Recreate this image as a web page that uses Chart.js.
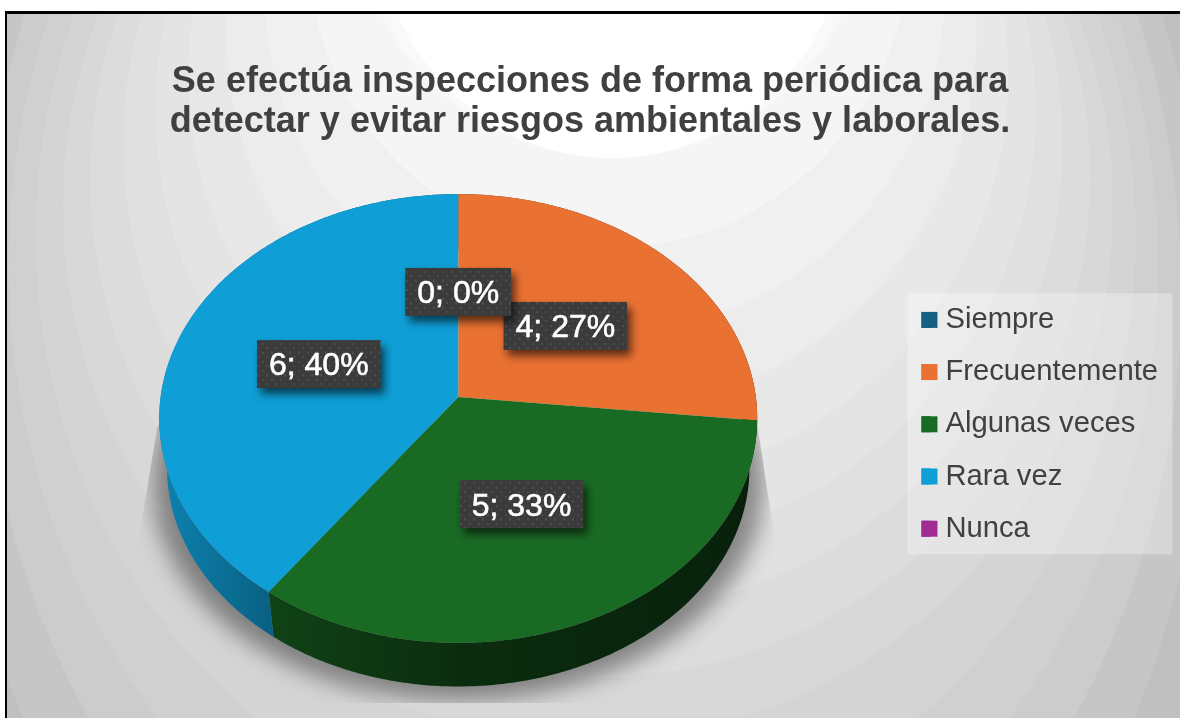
<!DOCTYPE html>
<html lang="es">
<head>
<meta charset="utf-8">
<title>Inspecciones periódicas</title>
<script src="https://cdn.jsdelivr.net/npm/chart.js@4"></script>
<style>
  html, body { margin: 0; padding: 0; background: #fff; }
  canvas { display: block; filter: blur(0.6px); }
</style>
</head>
<body>
<canvas id="myChart" width="1180" height="718"></canvas>
<script>
const categorias = ['Siempre', 'Frecuentemente', 'Algunas veces', 'Rara vez', 'Nunca'];
const valores = [0, 4, 5, 6, null];
const colores = ['#156082', '#e97132', '#196b24', '#0f9ed5', '#a02b93'];
const titulo = ['Se efectúa inspecciones de forma periódica para',
                'detectar y evitar riesgos ambientales y laborales.'];

// look of the tilted disc
const aplastar = 0.747, perspectiva = 0.0958, fondoEscala = 0.974, fondoCaida = 50;

// background bands, outer to inner
const anillosRadio = [800, 700, 660, 630, 600, 575, 550, 525, 500, 470, 440, 410, 375, 340, 300, 258];
const anillosGris  = [176, 186, 192, 198, 204, 208, 212, 216, 220, 224, 228, 232, 236, 240, 245, 249];

function proyectar(arc, ang, r) {
  const w = 1 - perspectiva * r * Math.sin(ang);
  return {
    x: arc.x + arc.outerRadius * r * Math.cos(ang) / w,
    y: arc.y + arc.outerRadius * aplastar * r * Math.sin(ang) / w
  };
}

function abajo(arc, p) {
  return {
    x: arc.x + (p.x - arc.x) * fondoEscala,
    y: arc.y + (p.y - arc.y) * fondoEscala + fondoCaida
  };
}

function arcoPuntos(arc, a0, a1, r) {
  const pts = [];
  const pasos = Math.max(2, Math.ceil((a1 - a0) / 0.01));
  for (let i = 0; i <= pasos; i++) {
    pts.push(proyectar(arc, a0 + (a1 - a0) * i / pasos, r));
  }
  return pts;
}

function trazar(ctx, pts) {
  ctx.beginPath();
  pts.forEach((p, i) => i ? ctx.lineTo(p.x, p.y) : ctx.moveTo(p.x, p.y));
  ctx.closePath();
}

function oscurecer(hex, f) {
  const n = parseInt(hex.slice(1), 16);
  return `rgb(${(n >> 16) * f},${((n >> 8) & 255) * f},${(n & 255) * f})`;
}

function dibujarSombra(ctx, arc) {
  const R = arc.outerRadius;
  const disco = arcoPuntos(arc, 0, Math.PI * 2, 1).map(p => abajo(arc, p));
  ctx.save();
  ctx.beginPath();
  ctx.moveTo(arc.x - R * 1.01, arc.y + 28);
  ctx.lineTo(arc.x - R * 1.07, arc.y + 135);
  ctx.lineTo(arc.x - R * 1.07, arc.y + 306);
  ctx.lineTo(arc.x + R * 1.08, arc.y + 306);
  ctx.lineTo(arc.x + R * 1.06, arc.y + 135);
  ctx.lineTo(arc.x + R * 1.005, arc.y + 28);
  ctx.closePath();
  ctx.clip();
  ctx.filter = 'blur(11px)';
  ctx.fillStyle = 'rgba(0,0,0,0.4)';
  const m = 1.05;
  trazar(ctx, disco.map(p => ({ x: arc.x + (p.x - arc.x) * m, y: p.y + 14 })));
  ctx.fill();
  ctx.restore();
}

function dibujarPared(ctx, arc, i) {
  const pts = arcoPuntos(arc, arc.startAngle, arc.endAngle, 1);
  const grad = ctx.createLinearGradient(arc.x - arc.outerRadius, 0, arc.x + arc.outerRadius, 0);
  grad.addColorStop(0, oscurecer(colores[i], 0.82));
  grad.addColorStop(0.18, oscurecer(colores[i], 0.62));
  grad.addColorStop(0.5, oscurecer(colores[i], 0.42));
  grad.addColorStop(1, oscurecer(colores[i], 0.3));
  trazar(ctx, pts.concat(pts.map(p => abajo(arc, p)).reverse()));
  ctx.fillStyle = grad;
  ctx.fill();
}

function dibujarTapa(ctx, arc, i) {
  const pts = arcoPuntos(arc, arc.startAngle, arc.endAngle, 1);
  trazar(ctx, [{ x: arc.x, y: arc.y }].concat(pts));
  ctx.fillStyle = colores[i];
  ctx.fill();
}

function tramaEtiqueta(ctx) {
  const c = document.createElement('canvas');
  c.width = c.height = 9;
  const t = c.getContext('2d');
  t.fillStyle = '#3b3b3b';
  t.fillRect(0, 0, 9, 9);
  t.fillStyle = '#4c4c4c';
  t.fillRect(1, 1, 2, 2);
  t.fillRect(5, 5, 2, 2);
  return ctx.createPattern(c, 'repeat');
}

function dibujarEtiquetas(ctx, arcs) {
  const total = valores.reduce((a, b) => a + (b || 0), 0);
  const trama = tramaEtiqueta(ctx);
  ctx.font = '32px "Liberation Sans"';
  ctx.textAlign = 'center';
  ctx.textBaseline = 'middle';
  for (let i = arcs.length - 1; i >= 0; i--) {
    if (valores[i] === null) continue;
    const arc = arcs[i];
    const p = proyectar(arc, (arc.startAngle + arc.endAngle) / 2, 0.5);
    const texto = `${valores[i]}; ${Math.round(valores[i] / total * 100)}%`;
    const w = ctx.measureText(texto).width + 24, h = 48;
    ctx.save();
    ctx.shadowColor = 'rgba(0,0,0,0.6)';
    ctx.shadowBlur = 9;
    ctx.shadowOffsetX = 4;
    ctx.shadowOffsetY = 6;
    ctx.fillStyle = trama;
    ctx.fillRect(p.x - w / 2, p.y - h / 2 + 1, w, h);
    ctx.restore();
    ctx.fillStyle = '#ffffff';
    ctx.strokeStyle = '#ffffff';
    ctx.lineWidth = 0.6;
    ctx.fillText(texto, p.x, p.y + 3.5);
    ctx.strokeText(texto, p.x, p.y + 3.5);
  }
}

const discoPlugin = {
  id: 'disco',
  afterLayout(chart) {
    chart.legend.top += 77;
    chart.legend.bottom += 77;
    chart.titleBlock.left -= 3;
    chart.titleBlock.right -= 3;
  },
  beforeDraw(chart) {
    const ctx = chart.ctx;
    const { width, height } = chart;
    ctx.save();
    ctx.fillStyle = '#ffffff';
    ctx.fillRect(0, 0, width, height);
    ctx.beginPath();
    ctx.rect(7, 14, width - 7, height - 14);
    ctx.clip();
    ctx.fillStyle = '#ababab';
    ctx.fillRect(0, 0, width, height);
    anillosRadio.forEach((rx, i) => {
      const d = rx - 258;
      const ry = rx + Math.max(0, rx - 520) * 1.8;
      ctx.beginPath();
      ctx.ellipse(612 - d * 0.09, -100 + d * 1.15, rx, ry, 0, 0, Math.PI * 2);
      const g = anillosGris[i];
      ctx.fillStyle = `rgb(${g},${g},${g})`;
      ctx.fill();
    });
    ctx.beginPath();
    ctx.ellipse(612, -100, 240, 258, 0, 0, Math.PI * 2);
    ctx.fillStyle = '#ffffff';
    ctx.fill();
    ctx.restore();
    ctx.fillStyle = '#000000';
    ctx.fillRect(5, 11, width - 5, 3);
    ctx.fillRect(5, 11, 2, height - 11);

    // legend panel
    const cajas = chart.legend.legendHitBoxes;
    const arriba = cajas[0].top - 12;
    const ultimo = cajas[cajas.length - 1];
    ctx.fillStyle = 'rgba(255,255,255,0.3)';
    ctx.fillRect(cajas[0].left - 14, arriba, 265, ultimo.top + ultimo.height + 11 - arriba);
  },
  beforeDatasetDraw(chart) {
    const ctx = chart.ctx;
    const arcs = chart.getDatasetMeta(0).data;
    dibujarSombra(ctx, arcs[0]);
    arcs.forEach((arc, i) => { if (valores[i]) dibujarPared(ctx, arc, i); });
    arcs.forEach((arc, i) => { if (valores[i]) dibujarTapa(ctx, arc, i); });
    return false;
  },
  afterDatasetsDraw(chart) {
    const ctx = chart.ctx;
    dibujarEtiquetas(ctx, chart.getDatasetMeta(0).data);
    chart.legend.legendHitBoxes.forEach((h, i) => {
      ctx.fillStyle = colores[i];
      ctx.fillRect(h.left, h.top + (h.height - 16) / 2, 16, 16);
    });
  }
};

new Chart(document.getElementById('myChart'), {
  type: 'pie',
  data: {
    labels: categorias,
    datasets: [{ data: valores, backgroundColor: colores, borderWidth: 0 }]
  },
  plugins: [discoPlugin],
  options: {
    responsive: false,
    animation: false,
    layout: { padding: { left: 18, right: 12, top: 0, bottom: 23.4 } },
    plugins: {
      title: {
        display: true,
        text: titulo,
        color: '#404040',
        font: { family: '"Liberation Sans"', size: 36, weight: 'bold', lineHeight: 40 / 36 },
        padding: { top: 62, bottom: -42.6 }
      },
      legend: {
        position: 'right',
        labels: {
          color: '#404040',
          font: { family: '"Liberation Sans"', size: 29.2 },
          boxWidth: 9.4,
          boxHeight: 16,
          padding: 23
        }
      },
      tooltip: { enabled: false }
    }
  }
});
</script>
</body>
</html>
